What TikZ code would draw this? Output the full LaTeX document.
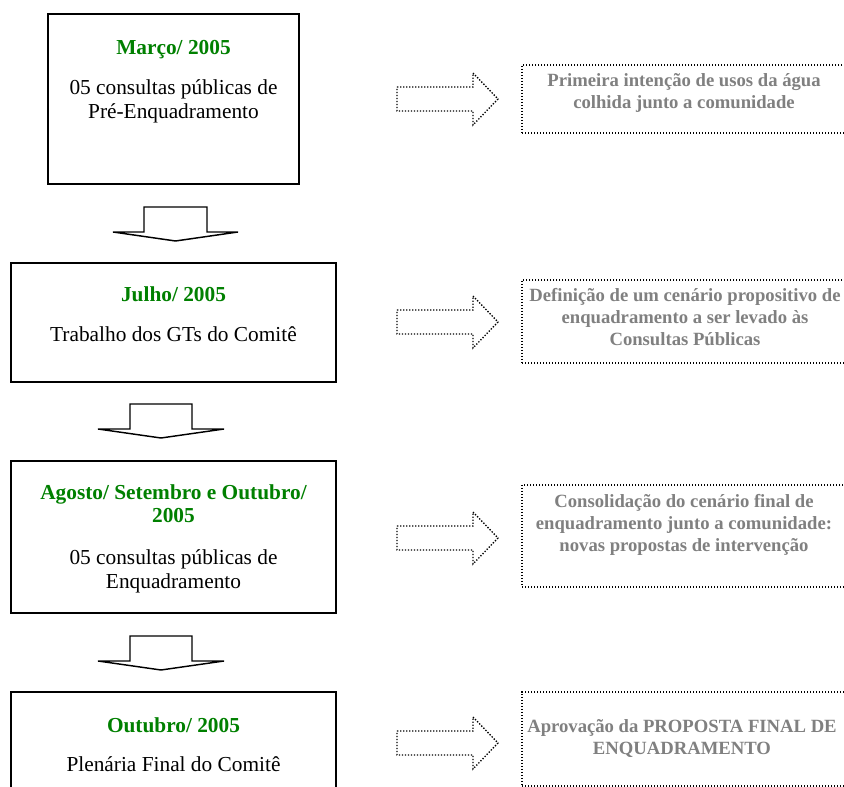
\documentclass[tikz,border=0pt]{standalone}
\usepackage{fontspec}
\setmainfont{Liberation Serif}
\definecolor{titlegreen}{RGB}{0,128,0}
\definecolor{notegray}{RGB}{128,128,128}
\tikzset{
  stagebox/.style={draw=black, line width=1.1pt, inner sep=0pt},
  notebox/.style={draw=black, line width=1pt, dash pattern=on 1pt off 1.25pt, inner sep=0pt},
  stagetitle/.style={anchor=base, align=center, text=titlegreen, font=\fontsize{16}{17.3}\selectfont\bfseries, inner sep=0pt},
  stagetext/.style={anchor=base, align=center, font=\fontsize{16}{18.6}\selectfont, inner sep=0pt},
  notetext/.style={anchor=base, align=center, text=notegray, font=\fontsize{14}{16.5}\selectfont\bfseries, inner sep=0pt},
  downarrow/.style={draw=black, line width=1.1pt, line join=miter},
  dotarrow/.style={draw=black, line width=1pt, dash pattern=on 1pt off 1.25pt},
}
\begin{document}
\begin{tikzpicture}[x=0.75pt,y=-0.75pt]
\useasboundingbox (0,0) rectangle (844,787);
\fill[white] (0,0) rectangle (844,787);

% left stage boxes
\node[stagebox, minimum width=188.25pt, minimum height=127.5pt] (s1) at (173.5,99) {};
\node[stagebox, minimum width=243.75pt, minimum height=89.25pt] (s2) at (173.5,322.5) {};
\node[stagebox, minimum width=243.75pt, minimum height=114pt] (s3) at (173.5,537) {};
\node[stagebox, minimum width=243.75pt, minimum height=103.5pt] (s4) at (173.5,761) {};

% texts: anchor=base is the baseline of the last line
\node[stagetitle] (t1) at (173.5,55) {Março/ 2005};
\node[stagetext] (b1) at (173.5,119) {05 consultas públicas de\\Pré-Enquadramento};
\node[stagetitle] (t2) at (173.5,302) {Julho/ 2005};
\node[stagetext] (b2) at (173.5,342) {Trabalho dos GTs do Comitê};
\node[stagetitle] (t3) at (173.5,523) {Agosto/ Setembro e Outubro/\\2005};
\node[stagetext] (b3) at (173.5,589) {05 consultas públicas de\\Enquadramento};
\node[stagetitle] (t4) at (173.5,733) {Outubro/ 2005};
\node[stagetext] (b4) at (173.5,772) {Plenária Final do Comitê};

% down block arrows
\coordinate (a1) at (175.5,207);
\coordinate (a2) at (161,404);
\coordinate (a3) at (161,636);
\draw[downarrow] (a1) ++(-62.5,25) -- ++(31,0) -- ++(0,-25) -- ++(63,0) -- ++(0,25) -- ++(31,0) -- ++(-62.5,9) -- cycle;
\draw[downarrow] (a2) ++(-63,25) -- ++(32,0) -- ++(0,-25) -- ++(62,0) -- ++(0,25) -- ++(32,0) -- ++(-63,9) -- cycle;
\draw[downarrow] (a3) ++(-63,25) -- ++(32,0) -- ++(0,-25) -- ++(62,0) -- ++(0,25) -- ++(32,0) -- ++(-63,9) -- cycle;

% right dotted arrows
\coordinate (d1) at (397,99);
\coordinate (d2) at (397,322);
\coordinate (d3) at (397,538);
\coordinate (d4) at (397,743);
\foreach \d in {d1,d2,d3,d4}{
  \draw[dotarrow] (\d) ++(0,-12) -- ++(76,0) -- ++(0,-14) -- ++(25,26) -- ++(-25,26) -- ++(0,-14) -- ++(-76,0) -- cycle;
}

% right note boxes
\node[notebox, minimum width=243pt, minimum height=51pt] (n1) at (684,99) {};
\node[notebox, minimum width=243pt, minimum height=62.25pt] (n2) at (684,321.5) {};
\node[notebox, minimum width=243pt, minimum height=76.5pt] (n3) at (684,536) {};
\node[notebox, minimum width=243pt, minimum height=70.5pt] (n4) at (684,739) {};

\node[notetext] (m1) at (684,108.3) {Primeira intenção de usos da água\\colhida junto a comunidade};
\node[notetext] (m2) at (685,345.7) {Definição de um cenário propositivo de\\enquadramento a ser levado às\\Consultas Públicas};
\node[notetext] (m3) at (684,552) {Consolidação do cenário final de\\enquadramento junto a comunidade:\\novas propostas de intervenção};
\node[notetext] (m4) at (682,755) {Aprovação da PROPOSTA FINAL DE\\ENQUADRAMENTO};
\end{tikzpicture}
\end{document}
